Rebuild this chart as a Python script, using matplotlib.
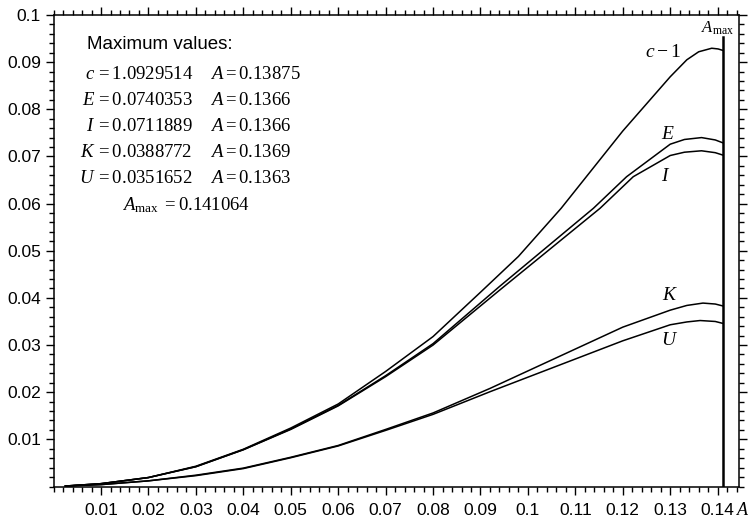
import matplotlib
matplotlib.use("Agg")
import matplotlib.pyplot as plt
from matplotlib.ticker import MultipleLocator, FixedLocator

plt.rcParams['font.family'] = ['Liberation Sans', 'DejaVu Sans']
plt.rcParams['mathtext.fontset'] = 'custom'
plt.rcParams['mathtext.rm'] = 'Liberation Serif'
plt.rcParams['mathtext.it'] = 'Liberation Serif:italic'

A_MAX = 0.141064

# curves (A, value)
c_A = [0.0025, 0.01, 0.02, 0.03, 0.04, 0.05, 0.06, 0.07, 0.08, 0.09, 0.098, 0.107,
       0.12, 0.13, 0.1335, 0.136, 0.13875, 0.1401, 0.141064]
c_v = [0.0001, 0.0006, 0.0019, 0.0043, 0.0079, 0.0124, 0.0175, 0.0244, 0.0318, 0.0412,
       0.0488, 0.0590, 0.0754, 0.0869, 0.0905, 0.0922, 0.09295, 0.0928, 0.0925]

E_A = [0.0025, 0.01, 0.02, 0.03, 0.04, 0.05, 0.06, 0.07, 0.08, 0.0941, 0.1138, 0.1208,
       0.13, 0.133, 0.1366, 0.1395, 0.141064]
E_v = [0.0001, 0.0006, 0.0019, 0.0042, 0.0078, 0.0122, 0.0172, 0.0235, 0.0303, 0.0425,
       0.0590, 0.0657, 0.0726, 0.0736, 0.0740, 0.0735, 0.0729]

I_A = [0.0025, 0.01, 0.02, 0.03, 0.04, 0.05, 0.06, 0.07, 0.08, 0.0941, 0.1152, 0.1222,
       0.13, 0.133, 0.1366, 0.1395, 0.141064]
I_v = [0.0001, 0.0006, 0.0019, 0.0042, 0.0078, 0.0121, 0.0171, 0.0233, 0.0300, 0.0417,
       0.0590, 0.0657, 0.0702, 0.0709, 0.0712, 0.0708, 0.0703]

K_A = [0.0025, 0.01, 0.02, 0.03, 0.04, 0.05, 0.06, 0.07, 0.08, 0.092, 0.12, 0.13,
       0.1335, 0.1369, 0.1395, 0.141064]
K_v = [0.0001, 0.0004, 0.0012, 0.0024, 0.0039, 0.0062, 0.0087, 0.0121, 0.0156, 0.0208,
       0.0338, 0.0374, 0.0384, 0.0389, 0.0387, 0.0383]

U_A = [0.0025, 0.01, 0.02, 0.03, 0.04, 0.05, 0.06, 0.07, 0.08, 0.092, 0.12, 0.13,
       0.1335, 0.1363, 0.1395, 0.141064]
U_v = [0.0001, 0.0004, 0.0012, 0.0023, 0.0038, 0.0061, 0.0086, 0.0119, 0.0153, 0.0201,
       0.0309, 0.0343, 0.0349, 0.0352, 0.0350, 0.0346]

curve_labels = [r'$c-1$', r'$E$', r'$I$', r'$K$', r'$U$']
label_pos = [(0.1285, 0.0920), (0.1295, 0.0746), (0.1291, 0.0657), (0.1299, 0.0406), (0.1299, 0.0309)]

max_names = ['c', 'E', 'I', 'K', 'U']
max_vals = ['1.0929514', '0.0740353', '0.0711889', '0.0388772', '0.0351652']
max_at = ['0.13875', '0.1366', '0.1366', '0.1369', '0.1363']

fig = plt.figure(figsize=(7.51, 5.23), dpi=100)
ax = fig.add_axes([53.6 / 751, 36.5 / 523, 685.4 / 751, 471.5 / 523])

for xs, ys in [(c_A, c_v), (E_A, E_v), (I_A, I_v), (K_A, K_v), (U_A, U_v)]:
    ax.plot(xs, ys, color='black', lw=1.1)

ax.plot([A_MAX, A_MAX], [0, 0.0953], color='black', lw=1.8)
ax.text(A_MAX - 0.0012, 0.0972, r'$A_{\mathrm{max}}$', fontsize=12, ha='center', va='center')

for lab, (x, y) in zip(curve_labels, label_pos):
    ax.text(x, y, lab, fontsize=14, ha='center', va='center')

# box of maximum values
ax.text(0.0070, 0.0937, 'Maximum values:', fontsize=13.5, ha='left', va='center')
rows_y = [0.0873, 0.0819, 0.0763, 0.0709, 0.0654]
for name, val, at, y in zip(max_names, max_vals, max_at, rows_y):
    ax.text(0.0088, y, '$' + name + '$', fontsize=13.5, ha='right', va='center')
    ax.text(0.0089, y, r'$=' + val + '$', fontsize=13.5, ha='left', va='center')
    ax.text(0.0330, y, r'$A=' + at + '$', fontsize=13.5, ha='left', va='center')
ax.text(0.0280, 0.0597, r'$A_{\mathrm{max}}\ =0.141064$', fontsize=13.5, ha='center', va='center')

ax.set_xlim(0, 0.1445)
ax.set_ylim(0, 0.1)

xt = [round(0.01 * i, 2) for i in range(1, 15)]
yt = [round(0.01 * i, 2) for i in range(1, 11)]
ax.xaxis.set_major_locator(FixedLocator(xt))
ax.yaxis.set_major_locator(FixedLocator(yt))
ax.set_xticklabels([('%g' % v) for v in xt])
ax.set_yticklabels([('%g' % v) for v in yt])
ax.xaxis.set_minor_locator(MultipleLocator(0.002))
ax.yaxis.set_minor_locator(MultipleLocator(0.002))
ax.tick_params(which='both', direction='out', top=True, right=True, width=1.0, labelsize=12.5)
ax.tick_params(which='major', length=6)
ax.tick_params(which='minor', length=3.5)
ax.tick_params(axis='x', which='major', pad=6)
ax.tick_params(axis='y', which='major', pad=3)
for s in ax.spines.values():
    s.set_linewidth(1.1)

ax.text(1.006, -0.05, r'$A$', transform=ax.transAxes, fontsize=13, ha='center', va='center')

fig.savefig('out.png', dpi=100)
